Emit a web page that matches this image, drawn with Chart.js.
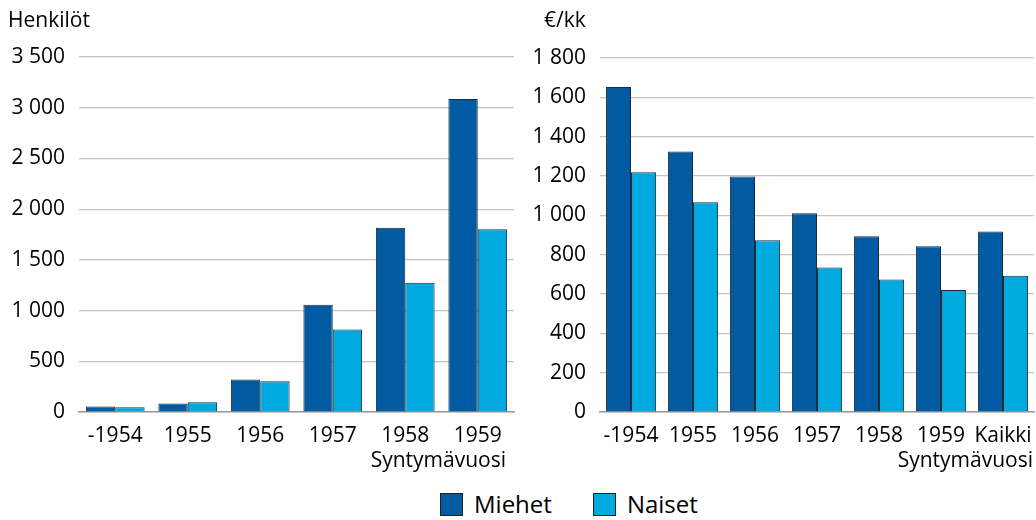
<!DOCTYPE html>
<html>
<head>
<meta charset="utf-8">
<script src="https://cdn.jsdelivr.net/npm/chart.js@4"></script>
<style>
  body { margin: 0; background: #fff; font-family: 'Open Sans', sans-serif; color: #000; }
  #wrap { position: relative; width: 1036px; height: 520px; overflow: hidden; }
  .box { position: absolute; top: 0; height: 446px; }
  .lbl { position: absolute; font-size: 21px; line-height: 1; white-space: nowrap; }
  #legend { position: absolute; top: 492px; left: 440px; display: flex; gap: 41px; font-size: 24px; line-height: 1; }
  #legend span.sw { display: inline-block; width: 21px; height: 21px; border: 1px solid #222; margin-right: 11px; vertical-align: -3px; }
</style>
</head>
<body>
<div id="wrap">
  <div class="box" style="left:0;width:520px"><canvas id="c1"></canvas></div>
  <div class="box" style="left:520px;width:516px"><canvas id="c2"></canvas></div>
  <div class="lbl" style="left:8px;top:9px">Henkilöt</div>
  <div class="lbl" style="left:544px;top:9px">€/kk</div>
  <div class="lbl" style="right:530px;top:449px">Syntymävuosi</div>
  <div class="lbl" style="right:3px;top:449px">Syntymävuosi</div>
  <div id="legend">
    <div><span class="sw" style="background:#005BA2"></span>Miehet</div>
    <div><span class="sw" style="background:#00A9DF"></span>Naiset</div>
  </div>
</div>
<script>
// Vasen: henkilöt syntymävuoden mukaan
const years1 = ['-1954', '1955', '1956', '1957', '1958', '1959']
const men1   = [55, 85, 320, 1058, 1816, 3085]
const women1 = [48, 96, 303, 814, 1275, 1802]

// Oikea: keskimääräinen €/kk
const years2 = ['-1954', '1955', '1956', '1957', '1958', '1959', 'Kaikki']
const men2   = [1652, 1325, 1198, 1010, 894, 843, 918]
const women2 = [1219, 1066, 873, 735, 674, 620, 693]

const C_MEN = '#005BA2', C_WOMEN = '#00A9DF'
const fmt = v => String(v).replace(/\B(?=(\d{3})+(?!\d))/g, ' ')

function makeChart(id, labels, men, women, max, step, yWidth, pad) {
  return new Chart(document.getElementById(id), {
    type: 'bar',
    data: {
      labels,
      datasets: [
        { label: 'Miehet', data: men,   backgroundColor: C_MEN,   borderColor: '#1e2a35', borderWidth: 1 },
        { label: 'Naiset', data: women, backgroundColor: C_WOMEN, borderColor: '#1e2a35', borderWidth: 1 },
      ]
    },
    options: {
      responsive: true, maintainAspectRatio: false, animation: false,
      layout: { padding: pad },
      datasets: { bar: { barPercentage: 1, categoryPercentage: 0.81 } },
      plugins: { legend: { display: false }, tooltip: { enabled: false } },
      scales: {
        x: {
          grid: { display: false },
          border: { color: '#9a9a9a', width: 1.5 },
          ticks: { color: '#000', font: { family: 'Open Sans', size: 21 }, padding: 3, maxRotation: 0, autoSkip: false },
          afterFit: s => { s.height = 34 }
        },
        y: {
          min: 0, max,
          grid: { color: '#c4c4c4', lineWidth: 1.2, drawTicks: false },
          border: { display: false },
          ticks: { stepSize: step, color: '#000', font: { family: 'Open Sans', size: 21 }, padding: 14, callback: v => fmt(v) },
          afterFit: s => { s.width = yWidth }
        }
      }
    }
  })
}

makeChart('c1', years1, men1, women1, 3500, 500, 79, { top: 57, right: 6, left: 0, bottom: 0 })
makeChart('c2', years2, men2, women2, 1800, 200, 80, { top: 58, right: 2, left: 0, bottom: 0 })
</script>
</body>
</html>
